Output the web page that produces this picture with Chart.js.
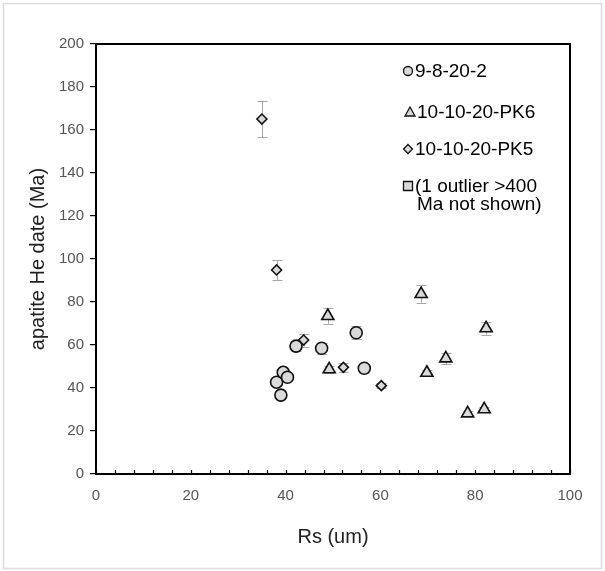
<!DOCTYPE html>
<html>
<head>
<meta charset="utf-8">
<script src="https://cdn.jsdelivr.net/npm/chart.js@4/dist/chart.umd.min.js"></script>
<style>
  html, body { margin: 0; padding: 0; background: #fff; }
  #c { display: block; }
</style>
</head>
<body>
<canvas id="c" width="605" height="571"></canvas>
<script>
// ---- Data ----
const seriesNames = ["9-8-20-2", "10-10-20-PK6", "10-10-20-PK5"];
const outlierNote = ["(1 outlier >400", "Ma not shown)"];

const s1X   = [39.0, 38.1, 39.5, 40.4, 42.2, 47.6, 54.9, 56.6];
const s1Y   = [36.7, 42.7, 47.3, 45.0, 59.5, 58.5, 65.7, 49.2];
const s1Err = [1.5, 1.5, 1.8, 1.8, 2.5, 2.6, 3.0, 2.0];

const s2X   = [48.9, 49.2, 68.6, 82.3, 73.8, 69.8, 78.4, 81.9];
const s2Y   = [73.5, 48.7, 83.7, 67.8, 53.8, 47.1, 28.2, 30.1];
const s2Err = [3.6, 1.5, 4.0, 3.0, 2.7, 1.5, 1.2, 1.2];

const s3X   = [35.0, 38.1, 43.8, 52.2, 60.2];
const s3Y   = [165.1, 94.9, 62.3, 49.6, 41.1];
const s3Err = [8.5, 4.6, 3.0, 2.0, 1.0];

const xTicks = [0, 20, 40, 60, 80, 100];
const yTicks = [0, 20, 40, 60, 80, 100, 120, 140, 160, 180, 200];
const xTitle = "Rs (um)";
const yTitle = "apatite He date (Ma)";

const pts = (xs, ys, es) => xs.map((x, i) => ({ x: x, y: ys[i], e: es[i] }));

const FILL = "#d9d9d9";
const EDGE = "#111111";
const FONT = "'Liberation Sans', Arial, Helvetica, sans-serif";

const chromePlugin = {
  id: "chrome",
  beforeDraw(chart) {
    const ctx = chart.ctx;
    ctx.save();
    ctx.strokeStyle = "#dcdcdc";
    ctx.lineWidth = 1.5;
    ctx.strokeRect(3.5, 3.5, 598, 565);
    ctx.restore();
  },
  beforeDatasetsDraw(chart) {
    const ctx = chart.ctx;
    ctx.save();
    ctx.strokeStyle = "#a8a8a8";
    ctx.lineWidth = 1;
    chart.data.datasets.forEach((ds, di) => {
      const meta = chart.getDatasetMeta(di);
      const ys = chart.scales.y;
      ds.data.forEach((p, i) => {
        const el = meta.data[i];
        if (!el) return;
        const x = Math.round(el.x) + 0.5;
        const yTop = ys.getPixelForValue(p.y + p.e);
        const yBot = ys.getPixelForValue(p.y - p.e);
        ctx.beginPath();
        ctx.moveTo(x, yTop); ctx.lineTo(x, yBot);
        ctx.moveTo(x - 5, Math.round(yTop) + 0.5); ctx.lineTo(x + 5, Math.round(yTop) + 0.5);
        ctx.moveTo(x - 5, Math.round(yBot) + 0.5); ctx.lineTo(x + 5, Math.round(yBot) + 0.5);
        ctx.stroke();
      });
    });
    ctx.restore();
  },
  afterDraw(chart) {
    const ctx = chart.ctx;
    const a = chart.chartArea;
    const xs = chart.scales.x;
    ctx.save();
    // inward minor ticks on x axis
    ctx.strokeStyle = "#000";
    ctx.lineWidth = 1.2;
    for (let v = 0; v <= 100; v += 4) {
      const px = Math.round(xs.getPixelForValue(v)) + 0.5;
      ctx.beginPath();
      ctx.moveTo(px, a.bottom);
      ctx.lineTo(px, a.bottom - 4);
      ctx.stroke();
    }
    // plot box
    ctx.lineWidth = 2;
    ctx.strokeRect(a.left, a.top, a.right - a.left, a.bottom - a.top);

    // legend
    const lx = 408;
    const rows = [71, 112, 149, 186];
    const styles = ["circle", "triangle", "rectRot", "rect"];
    const labels = [seriesNames[0], seriesNames[1], seriesNames[2], outlierNote[0]];
    ctx.font = "19px " + FONT;
    ctx.textBaseline = "middle";
    ctx.textAlign = "left";
    rows.forEach((ry, i) => {
      const st = styles[i];
      ctx.fillStyle = FILL;
      ctx.strokeStyle = EDGE;
      ctx.lineWidth = 1.3;
      ctx.beginPath();
      let mx = lx;
      if (st === "circle") {
        ctx.arc(mx, ry, 4.5, 0, Math.PI * 2);
      } else if (st === "triangle") {
        mx = lx + 2;
        ctx.moveTo(mx, ry - 5); ctx.lineTo(mx + 5, ry + 4); ctx.lineTo(mx - 5, ry + 4); ctx.closePath();
      } else if (st === "rectRot") {
        ctx.moveTo(mx, ry - 4.5); ctx.lineTo(mx + 4.5, ry); ctx.lineTo(mx, ry + 4.5); ctx.lineTo(mx - 4.5, ry); ctx.closePath();
      } else {
        ctx.rect(mx - 4.5, ry - 4.5, 9, 9);
      }
      ctx.fill(); ctx.stroke();
      ctx.fillStyle = "#000";
      ctx.fillText(labels[i], (st === "triangle" ? mx + 7 : mx + 7), ry + 1);
    });
    ctx.fillText(outlierNote[1], lx + 9, rows[3] + 19);
    ctx.restore();
  }
};

const mk = (label, data, style, r) => ({
  label: label,
  data: data,
  pointStyle: style,
  pointRadius: r,
  pointHoverRadius: r,
  backgroundColor: FILL,
  borderColor: EDGE,
  borderWidth: 1.6,
  showLine: false
});

new Chart(document.getElementById("c"), {
  type: "scatter",
  data: {
    datasets: [
      mk(seriesNames[0], pts(s1X, s1Y, s1Err), "circle", 6),
      mk(seriesNames[1], pts(s2X, s2Y, s2Err), "triangle", 7),
      mk(seriesNames[2], pts(s3X, s3Y, s3Err), "rectRot", 5)
    ]
  },
  options: {
    responsive: false,
    animation: false,
    layout: { padding: { left: 10, right: 35, top: 44, bottom: 20 } },
    plugins: { legend: { display: false }, tooltip: { enabled: false } },
    scales: {
      x: {
        type: "linear", min: 0, max: 100,
        afterFit: s => { s.height = 77; },
        afterBuildTicks: s => { s.ticks = xTicks.map(v => ({ value: v })); },
        grid: { display: false },
        border: { display: false },
        ticks: { color: "#555", font: { family: FONT, size: 15 }, padding: 5, maxRotation: 0 },
        title: { display: true, text: xTitle, color: "#222", font: { family: FONT, size: 20 }, padding: { top: 4, bottom: 2 } }
      },
      y: {
        type: "linear", min: 0, max: 200,
        afterFit: s => { s.width = 86; },
        afterBuildTicks: s => { s.ticks = yTicks.map(v => ({ value: v })); },
        grid: { display: true, drawOnChartArea: false, drawTicks: true, tickLength: 6, color: "#000", lineWidth: 1.2 },
        border: { display: false },
        ticks: { color: "#555", font: { family: FONT, size: 15 }, padding: 6 },
        title: { display: true, text: yTitle, color: "#222", font: { family: FONT, size: 20 }, padding: { top: 16, bottom: 4 } }
      }
    }
  },
  plugins: [chromePlugin]
});
</script>
</body>
</html>
